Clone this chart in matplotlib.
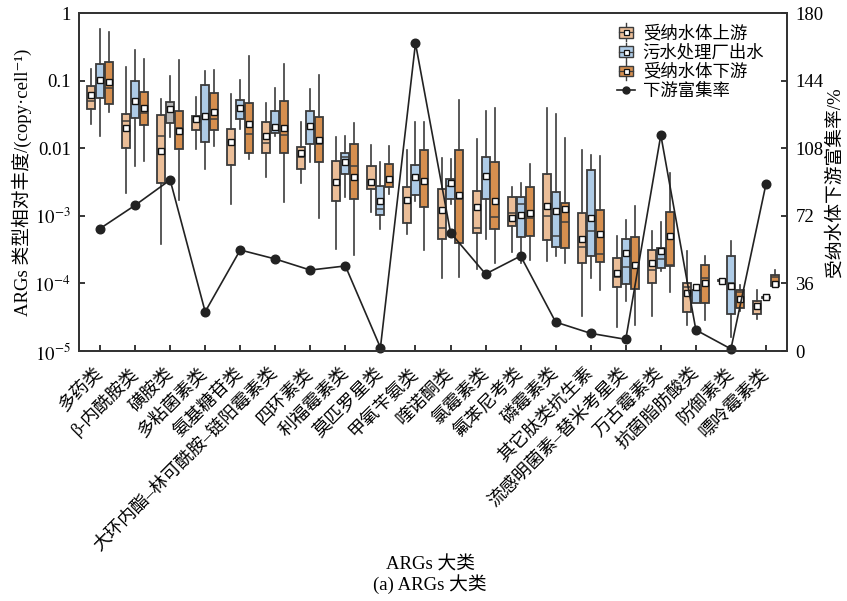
import matplotlib
matplotlib.use('Agg')
import matplotlib.pyplot as plt
import matplotlib.transforms as mtransforms
from matplotlib.patches import Patch, Rectangle
from matplotlib.lines import Line2D
from matplotlib.legend_handler import HandlerBase
import numpy as np

plt.rcParams['font.family'] = ['Liberation Serif', 'Noto Sans CJK SC', 'DejaVu Serif']
plt.rcParams['mathtext.fontset'] = 'stix'

categories = ['多药类', 'β-内酰胺类', '磺胺类', '多粘菌素类', '氨基糖苷类',
              '大环内酯–林可酰胺–链阳霉素类', '四环素类', '利福霉素类', '莫匹罗星类',
              '甲氧苄氨类', '喹诺酮类', '氯霉素类', '氟苯尼考类', '磷霉素类',
              '其它肽类抗生素', '流感明菌素–替米考星类', '万古霉素类', '抗菌脂肪酸类',
              '防御素类', '嘌呤霉素类']
series_names = ['受纳水体上游', '污水处理厂出水', '受纳水体下游']
line_name = '下游富集率'

# upstream of receiving water
up_whislo = [0.023, 0.0022, 3.8e-4, 0.0098, 0.00148, 0.0038, 0.0031, 3.2e-4, 0.00114, 5.3e-4,
             1.22e-4, 1.62e-4, 2.95e-4, 2.15e-4, 3.3e-5, 2.3e-5, 3.3e-5, 2.4e-5, 1.06e-4, 3.0e-5]
up_q1 = [0.038, 0.0099, 0.0031, 0.0183, 0.0057, 0.0084, 0.0049, 0.00166, 0.0025, 7.8e-4,
         4.6e-4, 5.5e-4, 7.1e-4, 4.4e-4, 2.0e-4, 8.7e-5, 1.0e-4, 3.8e-5, 1.08e-4, 3.5e-5]
up_med = [0.050, 0.025, 0.0153, 0.027, 0.0122, 0.0119, 0.0074, 0.0032, 0.0032, 0.00154,
          6.5e-4, 6.5e-4, 0.0011, 0.00101, 3.5e-4, 1.23e-4, 1.6e-4, 8.7e-5, 1.1e-4, 4.7e-5]
up_q3 = [0.084, 0.032, 0.031, 0.030, 0.0194, 0.0243, 0.0105, 0.0064, 0.0054, 0.0027,
         0.0025, 0.0023, 0.0019, 0.0041, 0.00109, 2.35e-4, 3.1e-4, 1.0e-4, 1.12e-4, 5.5e-5]
up_whishi = [0.15, 0.157, 0.053, 0.058, 0.063, 0.046, 0.0243, 0.0144, 0.0112, 0.0095,
             0.0071, 0.0136, 0.00265, 0.039, 0.0093, 5.1e-4, 6.0e-4, 3.05e-4, 1.14e-4, 8.1e-5]
up_mean = [0.061, 0.0196, 0.0091, 0.027, 0.0122, 0.0151, 0.0084, 0.0032, 0.0032, 0.0017,
           0.00121, 0.00134, 9.2e-4, 0.00142, 4.5e-4, 1.44e-4, 2.0e-4, 7.1e-5, 1.1e-4, 4.7e-5]

# WWTP effluent
ww_whislo = [0.0149, 0.0054, 0.0146, 0.0049, 0.019, 0.0153, 0.0062, 0.0019, 6.3e-4, 0.00163,
             0.0015, 4.5e-4, 2.0e-4, 2.56e-4, 1.19e-4, 5.4e-5, 1.5e-4, 5.2e-5, 1.6e-5, 6.0e-5]
ww_q1 = [0.055, 0.028, 0.0235, 0.0122, 0.027, 0.0167, 0.0116, 0.0042, 0.00102, 0.00204,
         0.00178, 0.00178, 4.9e-4, 3.5e-4, 2.5e-4, 9.7e-5, 1.67e-4, 5.2e-5, 3.5e-5, 6.1e-5]
ww_med = [0.102, 0.05, 0.039, 0.030, 0.042, 0.020, 0.0215, 0.0073, 0.00126, 0.0038,
          0.0028, 0.0039, 0.00148, 5.0e-4, 6.0e-4, 1.77e-4, 2.3e-4, 8.0e-5, 1.0e-4, 6.2e-5]
ww_q3 = [0.176, 0.0995, 0.048, 0.086, 0.0515, 0.0355, 0.035, 0.0085, 0.0028, 0.0057,
         0.0035, 0.0074, 0.0019, 0.00226, 0.0047, 4.5e-4, 3.3e-4, 8.0e-5, 2.5e-4, 6.3e-5]
ww_whishi = [0.58, 0.28, 0.118, 0.137, 0.103, 0.078, 0.075, 0.0149, 0.0062, 0.024,
             0.0069, 0.0358, 0.0031, 0.032, 0.0079, 8.7e-4, 8.2e-4, 9.0e-5, 4.3e-4, 6.4e-5]
ww_mean = [0.102, 0.05, 0.0375, 0.030, 0.040, 0.0207, 0.0215, 0.0062, 0.00163, 0.0038,
           0.0031, 0.0039, 0.00104, 0.00116, 9.3e-4, 2.8e-4, 3.05e-4, 8.9e-5, 9.2e-5, 6.2e-5]

# downstream of receiving water
dn_whislo = [0.034, 0.0065, 0.0017, 0.0106, 0.007, 0.0016, 9.4e-4, 2.6e-4, 0.0021, 3.1e-4,
             1.26e-4, 2.0e-4, 2.2e-4, 2.0e-4, 8.0e-5, 2.4e-5, 7.5e-5, 2.9e-5, 3.9e-5, 9.1e-5]
dn_q1 = [0.045, 0.022, 0.0097, 0.0189, 0.0084, 0.0084, 0.0062, 0.00176, 0.0027, 0.00137,
         3.9e-4, 6.3e-4, 5.0e-4, 3.3e-4, 2.1e-4, 8.3e-5, 1.83e-4, 5.1e-5, 4.3e-5, 9.1e-5]
dn_med = [0.079, 0.033, 0.020, 0.027, 0.0162, 0.0156, 0.0115, 0.0055, 0.0036, 0.0030,
          0.0018, 9.6e-4, 9.2e-4, 8.2e-4, 2.7e-4, 1.88e-4, 1.9e-4, 1.19e-4, 7.5e-5, 1.23e-4]
dn_q3 = [0.186, 0.068, 0.0358, 0.066, 0.0465, 0.050, 0.029, 0.0116, 0.0058, 0.0094,
         0.0095, 0.0062, 0.00265, 0.00154, 0.00122, 4.8e-4, 1.15e-3, 1.87e-4, 8.0e-5, 1.33e-4]
dn_whishi = [0.52, 0.21, 0.204, 0.143, 0.233, 0.176, 0.122, 0.0235, 0.0107, 0.0243,
             0.051, 0.039, 0.0058, 0.0141, 0.0076, 0.0014, 0.0043, 2.57e-4, 9.5e-5, 1.58e-4]
dn_mean = [0.095, 0.039, 0.0179, 0.034, 0.0228, 0.020, 0.0132, 0.0038, 0.0035, 0.0033,
           0.00204, 0.00166, 0.0011, 0.00127, 5.3e-4, 1.88e-4, 5.1e-4, 1.0e-4, 5.9e-5, 9.8e-5]

# downstream enrichment rate (%)
enrich = [65.2, 77.6, 91.1, 20.9, 53.8, 49.0, 43.1, 45.3, 1.8, 163.9,
          63.0, 41.0, 50.6, 15.4, 9.4, 6.2, 115.0, 11.2, 1.1, 88.9]

yticks_left = [1, 0.1, 0.01, 1e-3, 1e-4, 1e-5]
yticklabels_left = ['1', '0.1', '0.01', r'$10^{-3}$', r'$10^{-4}$', r'$10^{-5}$']
yticks_right = [0, 36, 72, 108, 144, 180]

colors = ['#EBBE98', '#AECBE6', '#D68F4F']
special_grey = '#B8B8B8'
edge = '#3C3C3C'


class BoxHandler(HandlerBase):
    def create_artists(self, legend, orig_handle, xdescent, ydescent,
                       width, height, fontsize, trans):
        cx = -xdescent + width / 2
        cy = -ydescent + height / 2
        bw = width * 0.85
        bh = height * 0.72
        wl = Line2D([cx, cx], [cy - height * 0.62, cy + height * 0.62],
                    color=edge, lw=1.0, transform=trans)
        r = Rectangle((cx - bw / 2, cy - bh / 2), bw, bh,
                      facecolor=orig_handle.get_facecolor(), edgecolor=edge,
                      lw=1.0, transform=trans)
        md = Line2D([cx - bw / 2, cx + bw / 2], [cy, cy], color=edge, lw=0.9,
                    transform=trans)
        sq = Line2D([cx], [cy], marker='s', markersize=3.6, markerfacecolor='white',
                    markeredgecolor='#111111', markeredgewidth=0.9, lw=0,
                    transform=trans)
        return [wl, r, md, sq]


fig = plt.figure(figsize=(8.47, 6.01), dpi=100)
ax = fig.add_axes([79/847, 1-351/601, (787-79)/847, (351-13)/601])

series = [
    (up_whislo, up_q1, up_med, up_q3, up_whishi, up_mean),
    (ww_whislo, ww_q1, ww_med, ww_q3, ww_whishi, ww_mean),
    (dn_whislo, dn_q1, dn_med, dn_q3, dn_whishi, dn_mean),
]
x = np.arange(len(categories))
offsets = [-0.255, 0.0, 0.255]
for si, (wl, q1, md, q3, wh, mn) in enumerate(series):
    stats = []
    for i in range(len(categories)):
        stats.append(dict(whislo=wl[i], q1=q1[i], med=md[i], q3=q3[i],
                          whishi=wh[i], mean=mn[i], fliers=[]))
    bp = ax.bxp(stats, positions=x + offsets[si], widths=0.23, patch_artist=True,
                showmeans=True, showcaps=False, showfliers=False,
                boxprops=dict(edgecolor=edge, linewidth=1.3),
                whiskerprops=dict(color=edge, linewidth=1.2),
                medianprops=dict(color=edge, linewidth=1.1),
                meanprops=dict(marker='s', markersize=4.2, markerfacecolor='white',
                               markeredgecolor='#111111', markeredgewidth=1.0))
    for i, b in enumerate(bp['boxes']):
        c = colors[si]
        if si == 1 and i == 2:
            c = special_grey
        b.set_facecolor(c)

ax.set_yscale('log')
ax.set_ylim(1e-5, 1)
ax.set_xlim(-0.6, len(categories) - 0.4)
ax.set_yticks(yticks_left)
ax.set_yticklabels(yticklabels_left)
ax.yaxis.set_minor_locator(matplotlib.ticker.NullLocator())
ax.set_xticks(x)
ax.set_xticklabels(categories, rotation=45, ha='right', va='center',
                   rotation_mode='anchor', fontsize=13)
shift = mtransforms.ScaledTranslation(0.055, 0.01, fig.dpi_scale_trans)
for lab in ax.get_xticklabels():
    lab.set_transform(lab.get_transform() + shift)
ax.tick_params(axis='x', direction='in', length=4, pad=14, width=1.1)
ax.tick_params(axis='y', direction='in', length=4, labelsize=13.5, width=1.1, pad=6)
for s in ax.spines.values():
    s.set_linewidth(1.3)
    s.set_color('#333333')
ax.set_ylabel('ARGs 类型相对丰度/(copy·cell⁻¹)', fontsize=13.5)
ax.yaxis.set_label_coords(-0.066, 0.5)

ax2 = ax.twinx()
ax2.plot(x, enrich, color='#222222', lw=1.2, marker='o', markersize=6.2,
         markerfacecolor='#222222', clip_on=False)
ax2.set_ylim(0, 180)
ax2.set_yticks(yticks_right)
ax2.tick_params(axis='y', direction='in', length=4, labelsize=13.5, width=1.1, pad=6)
ax2.set_ylabel('受纳水体下游富集率/%', fontsize=13.5)
ax2.yaxis.set_label_coords(1.056, 0.5)
for s in ax2.spines.values():
    s.set_linewidth(1.3)
    s.set_color('#333333')

handles = [Patch(facecolor=c) for c in colors]
line_handle = Line2D([0], [0], color='#222222', lw=1.2, marker='o', markersize=5)
handler_map = {h: BoxHandler() for h in handles}
leg = ax2.legend(handles + [line_handle], series_names + [line_name],
                 loc='upper right', frameon=False, fontsize=12.5,
                 handler_map=handler_map,
                 handlelength=1.0, handleheight=0.9, handletextpad=0.45,
                 labelspacing=0.12, borderaxespad=0.3, bbox_to_anchor=(0.985, 1.0))

fig.text(0.508, 1 - 565/601, 'ARGs 大类', ha='center', va='center', fontsize=13.5)
fig.text(0.508, 1 - 584/601, '(a) ARGs 大类', ha='center', va='center', fontsize=13.5)

fig.savefig('out.png', dpi=100)
